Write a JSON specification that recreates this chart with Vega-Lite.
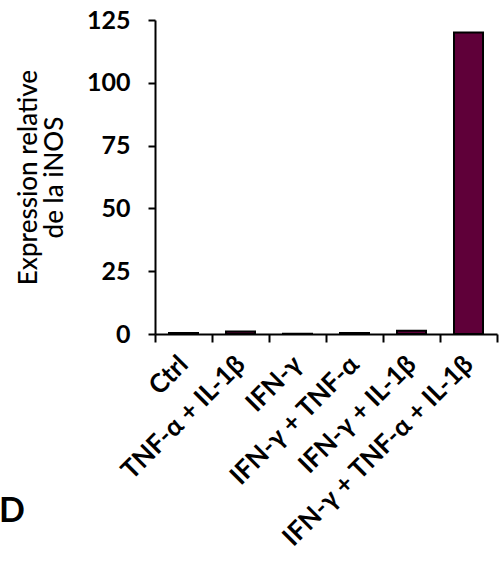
{
  "$schema": "https://vega.github.io/schema/vega-lite/v6.json",
  "autosize": "none",
  "width": 342,
  "height": 314,
  "padding": {"left": 155, "top": 20, "right": 6, "bottom": 229},
  "background": "white",
  "config": {"view": {"stroke": null}, "font": "Lato"},
  "title": {"text": "D", "orient": "bottom", "anchor": "start", "frame": "group", "fontSize": 34, "fontWeight": "bold", "font": "Lato", "color": "black", "dx": -156, "offset": -56},
  "data": {"values": [
    {"group": "Ctrl", "value": 0.4},
    {"group": "TNF-α + IL-1β", "value": 1.0},
    {"group": "IFN-γ", "value": 0.1},
    {"group": "IFN-γ + TNF-α", "value": 0.4},
    {"group": "IFN-γ + IL-1β", "value": 1.3},
    {"group": "IFN-γ + TNF-α + IL-1β", "value": 120}
  ]},
  "mark": {"type": "bar", "size": 29, "fill": "#5f0039", "stroke": "black", "strokeWidth": 2},
  "encoding": {
    "x": {
      "field": "group", "type": "nominal", "sort": null,
      "scale": {"paddingInner": 0, "paddingOuter": 0},
      "axis": {
        "title": null, "labelAngle": -45, "labelAlign": "right", "labelBaseline": "middle",
        "labelFontSize": 26, "labelFontWeight": "bold", "labelColor": "black", "labelPadding": 18, "labelLimit": 500,
        "tickBand": "extent", "tickSize": 8, "tickWidth": 2, "tickColor": "black",
        "domainColor": "black", "domainWidth": 2, "grid": false
      }
    },
    "y": {
      "field": "value", "type": "quantitative",
      "scale": {"domain": [0, 125], "nice": false},
      "axis": {
        "values": [0, 25, 50, 75, 100, 125],
        "title": ["Expression relative", "de la iNOS"], "titleFontSize": 26, "titleFontWeight": 500, "titleColor": "black", "titlePadding": 19, "titleLineHeight": 26,
        "labelFontSize": 25, "labelFontWeight": "bold", "labelColor": "black", "labelPadding": 18,
        "tickSize": 7, "tickWidth": 2, "tickColor": "black",
        "domainColor": "black", "domainWidth": 2, "grid": false
      }
    }
  }
}
